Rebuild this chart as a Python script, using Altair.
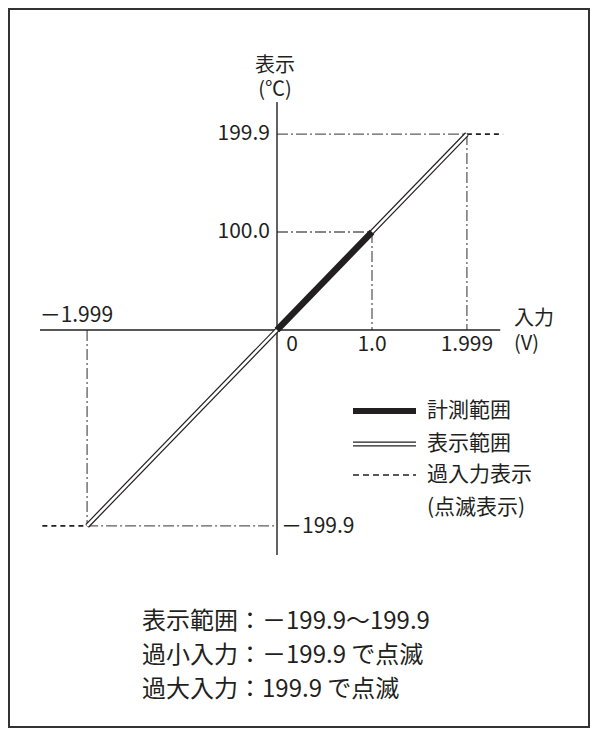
import altair as alt
import pandas as pd

# ---------------- data ----------------
x_tick_values = [1.0, 1.999]
x_tick_labels = ["1.0", "1.999"]
x_zero_label = "0"
y_tick_values = [199.9, 100.0]
y_tick_labels = ["199.9", "100.0"]
neg_x_value = -1.999
neg_x_label = "－1.999"
neg_y_value = -199.9
neg_y_label = "－199.9"

measure_x = [0.0, 1.0]          # 計測範囲
measure_y = [0.0, 100.0]
display_x = [-1.999, 1.999]     # 表示範囲
display_y = [-199.9, 199.9]

y_title = ["表示", "(℃)"]
x_title = ["入力", "(V)"]
legend_labels = ["計測範囲", "表示範囲", "過入力表示", "(点滅表示)"]
note_lines = ["表示範囲：－199.9〜199.9", "過小入力：－199.9 で点滅", "過大入力：199.9 で点滅"]

# ---------------- layout constants ----------------
W, H = 582, 720
OX, OY = 269, 322          # origin in chart pixels
PX_X, PX_Y = 95.0, 0.98    # pixels per unit
XS = alt.Scale(domain=[-OX / PX_X, (W - OX) / PX_X], nice=False, zero=False)
YS = alt.Scale(domain=[(OY - H) / PX_Y, OY / PX_Y], nice=False, zero=False)

FONT = "Noto Sans CJK JP"
INK = "#231f20"
GRAY = "#5e5e5e"

AX_X = [-2.495, 2.35]      # horizontal axis extent (data units)
AX_Y = [-229.6, 232.7]     # vertical axis extent
OVER_RIGHT = 2.38
OVER_LEFT = -2.47


def seg_chart(df, **mark):
    return alt.Chart(df).mark_rule(**mark).encode(
        x=alt.X("x:Q", scale=XS, axis=None),
        x2="x2:Q",
        y=alt.Y("y:Q", scale=YS, axis=None),
        y2="y2:Q",
    )


one = pd.DataFrame({"a": [0]})

# border
border = alt.Chart(one).mark_rect(fillOpacity=0, stroke="#333333", strokeWidth=2).encode(
    x=alt.value(1), x2=alt.value(W - 1), y=alt.value(1), y2=alt.value(H - 1)
)

# axes
axes_df = pd.DataFrame({
    "x": [AX_X[0], 0.0], "x2": [AX_X[1], 0.0],
    "y": [0.0, AX_Y[0]], "y2": [0.0, AX_Y[1]],
})
axes = seg_chart(axes_df, color=INK, strokeWidth=1.4)

# dash-dot guide lines
gx, gy = display_x[1], display_y[1]
mx, my = measure_x[1], measure_y[1]
nx, ny = display_x[0], display_y[0]
guide_df = pd.DataFrame({
    "x": [0.0, gx, 0.0, mx, nx, nx],
    "x2": [gx, gx, mx, mx, nx, 0.0],
    "y": [gy, gy, my, my, 0.0, ny],
    "y2": [gy, 0.0, my, 0.0, ny, ny],
})
guides = seg_chart(guide_df, color=GRAY, strokeWidth=1.3, strokeDash=[11, 3, 2, 3])

# over-input dashed lines
over_df = pd.DataFrame({
    "x": [gx, OVER_LEFT], "x2": [OVER_RIGHT, nx],
    "y": [gy, ny], "y2": [gy, ny],
})
over = seg_chart(over_df, color=INK, strokeWidth=1.7, strokeDash=[5, 4])

# display range double line
disp_df = pd.DataFrame({"x": [display_x[0]], "x2": [display_x[1]],
                        "y": [display_y[0]], "y2": [display_y[1]]})
disp_outer = seg_chart(disp_df, color=INK, strokeWidth=5, strokeCap="butt")
disp_inner = seg_chart(disp_df, color="white", strokeWidth=2.6, strokeCap="butt")

# measurement range thick line
meas_df = pd.DataFrame({"x": [measure_x[0]], "x2": [measure_x[1]],
                        "y": [measure_y[0]], "y2": [measure_y[1]]})
meas = seg_chart(meas_df, color=INK, strokeWidth=6.5, strokeCap="butt")


def txt(df, **mark):
    base = dict(font=FONT, color=INK, fontSize=21, baseline="middle")
    base.update(mark)
    return alt.Chart(df).mark_text(**base)


# tick labels
xt_df = pd.DataFrame({"v": x_tick_values, "t": x_tick_labels, "z": [0.0] * len(x_tick_values)})
xt = txt(xt_df, align="center", dy=15).encode(
    x=alt.X("v:Q", scale=XS, axis=None), y=alt.Y("z:Q", scale=YS, axis=None), text="t:N")
x0_df = pd.DataFrame({"v": [0.0], "t": [x_zero_label]})
x0 = txt(x0_df, align="center", dx=15, dy=15).encode(
    x=alt.X("v:Q", scale=XS, axis=None), y=alt.Y("v:Q", scale=YS, axis=None), text="t:N")
yt_df = pd.DataFrame({"v": y_tick_values, "t": y_tick_labels, "z": [0.0] * len(y_tick_values)})
yt = txt(yt_df, align="right", dx=-7).encode(
    x=alt.X("z:Q", scale=XS, axis=None), y=alt.Y("v:Q", scale=YS, axis=None), text="t:N")
nxl_df = pd.DataFrame({"v": [neg_x_value], "z": [0.0], "t": [neg_x_label]})
nxl = txt(nxl_df, align="right", dx=26, dy=-14).encode(
    x=alt.X("v:Q", scale=XS, axis=None), y=alt.Y("z:Q", scale=YS, axis=None), text="t:N")
nyl_df = pd.DataFrame({"v": [neg_y_value], "z": [0.0], "t": [neg_y_label]})
nyl = txt(nyl_df, align="left", dx=4, dy=1).encode(
    x=alt.X("z:Q", scale=XS, axis=None), y=alt.Y("v:Q", scale=YS, axis=None), text="t:N")

# axis titles (two-line text blocks)
ytitle = txt(one, align="center", lineHeight=24, fontSize=20).encode(
    x=alt.value(267), y=alt.value(58), text=alt.value(y_title))
xtitle = txt(one, align="left", lineHeight=25, fontSize=20).encode(
    x=alt.value(506), y=alt.value(311), text=alt.value(x_title))

# legend
LX1, LX2, LTX = 345, 408, 419
LYS = [403, 436, 467, 500]
leg_meas = alt.Chart(one).mark_rule(color=INK, strokeWidth=6, strokeCap="butt").encode(
    x=alt.value(LX1), x2=alt.value(LX2), y=alt.value(LYS[0]))
leg_disp_o = alt.Chart(one).mark_rule(color=INK, strokeWidth=5, strokeCap="butt").encode(
    x=alt.value(LX1), x2=alt.value(LX2), y=alt.value(LYS[1]))
leg_disp_i = alt.Chart(one).mark_rule(color="white", strokeWidth=2.6, strokeCap="butt").encode(
    x=alt.value(LX1 - 1), x2=alt.value(LX2 + 1), y=alt.value(LYS[1]))
leg_over = alt.Chart(one).mark_rule(color=INK, strokeWidth=1.7, strokeDash=[6, 4]).encode(
    x=alt.value(LX1), x2=alt.value(LX2), y=alt.value(LYS[2]))
leg_text = [
    txt(pd.DataFrame({"t": [lab]}), align="left").encode(
        x=alt.value(LTX), y=alt.value(yy), text="t:N")
    for lab, yy in zip(legend_labels, LYS)
]

# notes
NYS = [614, 648, 682]
notes = [
    txt(pd.DataFrame({"t": [line]}), align="left", fontSize=24).encode(
        x=alt.value(134), y=alt.value(yy), text="t:N")
    for line, yy in zip(note_lines, NYS)
]

chart = alt.layer(
    border, guides, axes, over, disp_outer, disp_inner, meas,
    xt, x0, yt, nxl, nyl, ytitle, xtitle,
    leg_meas, leg_disp_o, leg_disp_i, leg_over, *leg_text, *notes,
).properties(
    width=W, height=H, padding=0,
    autosize=alt.AutoSizeParams(type="none"),
).configure_view(stroke=None)

chart.save("out.html", embed_options={"renderer": "svg", "actions": False})
